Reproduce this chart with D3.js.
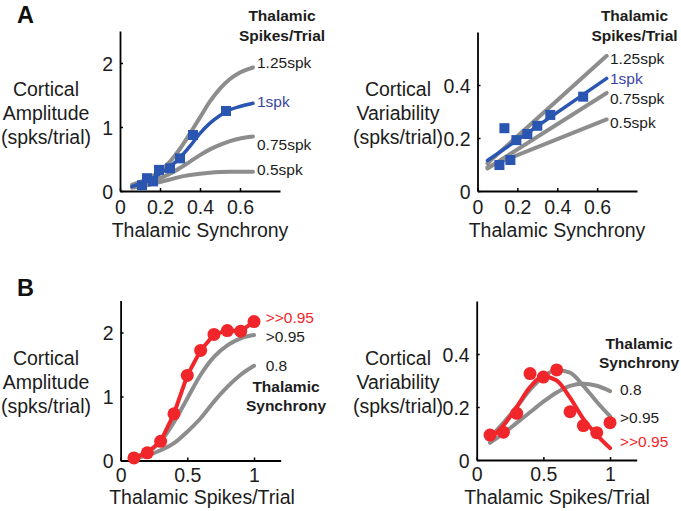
<!DOCTYPE html>
<html>
<head>
<meta charset="utf-8">
<script src="https://cdn.jsdelivr.net/npm/d3@7"></script>
<style>
  html, body { margin: 0; padding: 0; background: #fff; }
  svg { display: block; font-family: "Liberation Sans", Arial, sans-serif; }
</style>
</head>
<body>
<svg id="chart" width="681" height="511"></svg>
<script>
// ---------- DATA ----------
// Panel A (left): cortical amplitude vs thalamic synchrony
const aCurveX   = [0.06, 0.1, 0.15, 0.2, 0.25, 0.3, 0.35, 0.4, 0.45, 0.5, 0.55, 0.6, 0.665];
const aAmp125   = [0.10, 0.14, 0.21, 0.31, 0.46, 0.66, 0.90, 1.15, 1.40, 1.60, 1.75, 1.85, 1.93];
const aAmp1Fit  = [0.07, 0.11, 0.18, 0.27, 0.38, 0.52, 0.70, 0.90, 1.06, 1.18, 1.27, 1.32, 1.37];
const aAmp075   = [0.07, 0.10, 0.14, 0.20, 0.27, 0.36, 0.46, 0.56, 0.65, 0.72, 0.78, 0.82, 0.85];
const aAmp05    = [0.05, 0.07, 0.10, 0.14, 0.18, 0.22, 0.25, 0.27, 0.285, 0.295, 0.30, 0.30, 0.30];
const aPointX   = [0.11, 0.135, 0.165, 0.195, 0.25, 0.30, 0.365, 0.53];
const aAmpPts   = [0.09, 0.20, 0.15, 0.33, 0.355, 0.51, 0.875, 1.25];
// Panel A (right): cortical variability vs thalamic synchrony
const aLineX    = [0.05, 0.648];
const aVar125   = [0.105, 0.51];
const aVar1Fit  = [0.115, 0.425];
const aVar075   = [0.085, 0.37];
const aVar05    = [0.09, 0.27];
const aVarPts   = [0.098, 0.237, 0.117, 0.192, 0.215, 0.246, 0.287, 0.356];
const aLabels   = ["1.25spk", "1spk", "0.75spk", "0.5spk"];

// Panel B: vs thalamic spikes/trial
const bX        = [0.1, 0.2, 0.3, 0.4, 0.5, 0.6, 0.7, 0.8, 0.9, 1.0];
const bAmpRed   = [0.04, 0.12, 0.30, 0.73, 1.33, 1.72, 1.97, 2.03, 2.02, 2.17];
const bAmp095   = [0.05, 0.13, 0.30, 0.60, 0.97, 1.34, 1.62, 1.80, 1.91, 1.96];
const bAmp08    = [0.03, 0.08, 0.16, 0.27, 0.45, 0.66, 0.92, 1.15, 1.34, 1.48];
const bVarRed   = [0.094, 0.105, 0.176, 0.326, 0.313, 0.34, 0.182, 0.13, 0.103, 0.141];
const bVarRedFit= [0.08, 0.13, 0.20, 0.275, 0.315, 0.30, 0.235, 0.155, 0.095, 0.045];
const bVar095   = [0.085, 0.14, 0.20, 0.265, 0.315, 0.34, 0.33, 0.28, 0.22, 0.165];
const bVar08    = [0.065, 0.10, 0.14, 0.18, 0.22, 0.255, 0.28, 0.288, 0.28, 0.26];
const bLabels   = [">>0.95", ">0.95", "0.8"];

const ticksSync   = [0, 0.2, 0.4, 0.6];
const ticksSpikes = [0, 0.5, 1];
const ticksAmp    = [0, 1, 2];
const ticksVar    = [0, 0.2, 0.4];

// ---------- STYLE ----------
const GRAY = "#8d8d8d", BLUE = "#2a55b0", BLUE_TXT = "#3a45a0", RED = "#f0262b", INK = "#1c1c1c";
const svg = d3.select("#chart");

function fmt(d) { return d === 0 ? "0" : String(d); }

function panel(cfg) {
  const x = d3.scaleLinear().domain(cfg.xd).range(cfg.xr);
  const y = d3.scaleLinear().domain(cfg.yd).range(cfg.yr);
  const g = svg.append("g");
  const xa = g.append("g").attr("transform", `translate(0,${cfg.yr[0]})`)
    .call(d3.axisBottom(x).tickValues(cfg.xt).tickSize(-3).tickSizeOuter(0).tickFormat(fmt));
  const ya = g.append("g").attr("transform", `translate(${cfg.xr[0]},0)`)
    .call(d3.axisLeft(y).tickValues(cfg.yt).tickSize(-3).tickSizeOuter(0).tickFormat(fmt).tickPadding(7));
  [xa, ya].forEach(a => {
    a.select(".domain").attr("stroke", "#000").attr("stroke-width", 1.8);
    a.selectAll(".tick line").attr("stroke", "#000").attr("stroke-width", 1.5);
    a.selectAll(".tick text").attr("fill", INK).style("font-size", "19.5px").style("font-family", "Liberation Sans, Arial, sans-serif");
  });
  xa.selectAll(".tick text").attr("y", cfg.tickBase).attr("dy", 0);
  ya.selectAll(".tick text").attr("dy", "0.36em");
  return { g, x, y };
}

function curve(p, xs, ys, color, w, c) {
  const line = d3.line().x((d, i) => p.x(xs[i])).y(d => p.y(d)).curve(c || d3.curveMonotoneX);
  p.g.append("path").datum(ys).attr("d", line).attr("fill", "none")
    .attr("stroke", color).attr("stroke-width", w).attr("stroke-linecap", "round").attr("stroke-linejoin", "round");
}

function text(x, y, str, opts = {}) {
  svg.append("text").attr("x", x).attr("y", y).text(str)
    .attr("fill", opts.fill || INK)
    .attr("text-anchor", opts.anchor || "start")
    .style("font-size", (opts.size || 19.5) + "px")
    .style("font-weight", opts.bold ? "bold" : "normal");
}

// ---------- PANEL A LEFT ----------
const pAL = panel({ xd: [0, 0.8], xr: [120, 280], yd: [0, 2.5], yr: [191, 31], xt: ticksSync, yt: ticksAmp, tickBase: 23 });
curve(pAL, aCurveX, aAmp05, GRAY, 4);
curve(pAL, aCurveX, aAmp075, GRAY, 4);
curve(pAL, aCurveX, aAmp125, GRAY, 4);
curve(pAL, aCurveX, aAmp1Fit, BLUE, 3.5);
pAL.g.selectAll("rect.m").data(aAmpPts).enter().append("rect")
  .attr("x", (d, i) => pAL.x(aPointX[i]) - 5).attr("y", d => pAL.y(d) - 5)
  .attr("width", 10).attr("height", 10).attr("fill", BLUE);

// ---------- PANEL A RIGHT ----------
const pAR = panel({ xd: [0, 0.8], xr: [477.5, 637], yd: [0, 0.6], yr: [191, 32], xt: ticksSync, yt: ticksVar, tickBase: 23 });
curve(pAR, aLineX, aVar05, GRAY, 4, d3.curveLinear);
curve(pAR, aLineX, aVar075, GRAY, 4, d3.curveLinear);
curve(pAR, aLineX, aVar125, GRAY, 4, d3.curveLinear);
curve(pAR, aLineX, aVar1Fit, BLUE, 3.5, d3.curveLinear);
pAR.g.selectAll("rect.m").data(aVarPts).enter().append("rect")
  .attr("x", (d, i) => pAR.x(aPointX[i]) - 5).attr("y", d => pAR.y(d) - 5)
  .attr("width", 10).attr("height", 10).attr("fill", BLUE);

// ---------- PANEL B LEFT ----------
const pBL = panel({ xd: [0, 1.2], xr: [120.6, 280.7], yd: [0, 2.5], yr: [460.5, 300.5], xt: ticksSpikes, yt: ticksAmp, tickBase: 21 });
curve(pBL, bX, bAmp08, GRAY, 4);
curve(pBL, bX, bAmp095, GRAY, 4);
curve(pBL, bX, bAmpRed, RED, 4, d3.curveLinear);
pBL.g.selectAll("circle.m").data(bAmpRed).enter().append("circle")
  .attr("cx", (d, i) => pBL.x(bX[i])).attr("cy", d => pBL.y(d)).attr("r", 6.5).attr("fill", RED);

// ---------- PANEL B RIGHT ----------
const pBR = panel({ xd: [0, 1.2], xr: [476.7, 636.7], yd: [0, 0.6], yr: [460, 301], xt: ticksSpikes, yt: ticksVar, tickBase: 21 });
curve(pBR, bX, bVar08, GRAY, 4);
curve(pBR, bX, bVar095, GRAY, 4);
curve(pBR, bX, bVarRedFit, RED, 4);
pBR.g.selectAll("circle.m").data(bVarRed).enter().append("circle")
  .attr("cx", (d, i) => pBR.x(bX[i])).attr("cy", d => pBR.y(d)).attr("r", 6.5).attr("fill", RED);

// ---------- TEXT ----------
text(17, 23, "A", { bold: true, size: 23.5, fill: "#111" });
text(17, 296, "B", { bold: true, size: 23.5, fill: "#111" });

[["Cortical", "Amplitude", "(spks/trial)", 46, 96], ["Cortical", "Variability", "(spks/trial)", 398, 96],
 ["Cortical", "Amplitude", "(spks/trial)", 46, 365], ["Cortical", "Variability", "(spks/trial)", 398, 365]]
  .forEach(([a, b, c, cx, by]) => {
    text(cx, by, a, { anchor: "middle" });
    text(cx, by + 24, b, { anchor: "middle" });
    text(cx, by + 48, c, { anchor: "middle" });
  });

text(200, 237, "Thalamic Synchrony", { anchor: "middle" });
text(557, 237, "Thalamic Synchrony", { anchor: "middle" });
text(202, 504, "Thalamic Spikes/Trial", { anchor: "middle" });
text(557, 504, "Thalamic Spikes/Trial", { anchor: "middle" });

// legend titles
text(282, 21, "Thalamic", { anchor: "middle", bold: true, size: 15.5 });
text(282, 40.5, "Spikes/Trial", { anchor: "middle", bold: true, size: 15.5 });
text(634.5, 21, "Thalamic", { anchor: "middle", bold: true, size: 15.5 });
text(634.5, 40.5, "Spikes/Trial", { anchor: "middle", bold: true, size: 15.5 });
text(286, 392, "Thalamic", { anchor: "middle", bold: true, size: 15.5 });
text(286, 411, "Synchrony", { anchor: "middle", bold: true, size: 15.5 });
text(639, 348.5, "Thalamic", { anchor: "middle", bold: true, size: 15.5 });
text(639, 367.5, "Synchrony", { anchor: "middle", bold: true, size: 15.5 });

// curve labels
const aLeftY = [68, 107, 150, 175], aRightY = [64, 83.5, 104, 127.5];
aLabels.forEach((s, i) => {
  const c = i === 1 ? BLUE_TXT : INK;
  text(257, aLeftY[i], s, { size: 15.5, fill: c });
  text(610, aRightY[i], s, { size: 15.5, fill: c });
});
const bLeftY = [322.7, 341.7, 371], bRightY = [446.7, 422.7, 395];
bLabels.forEach((s, i) => {
  const c = i === 0 ? RED : INK;
  text(265.7, bLeftY[i], s, { size: 15.5, fill: c });
  text(620, bRightY[i], s, { size: 15.5, fill: c });
});
</script>
</body>
</html>
